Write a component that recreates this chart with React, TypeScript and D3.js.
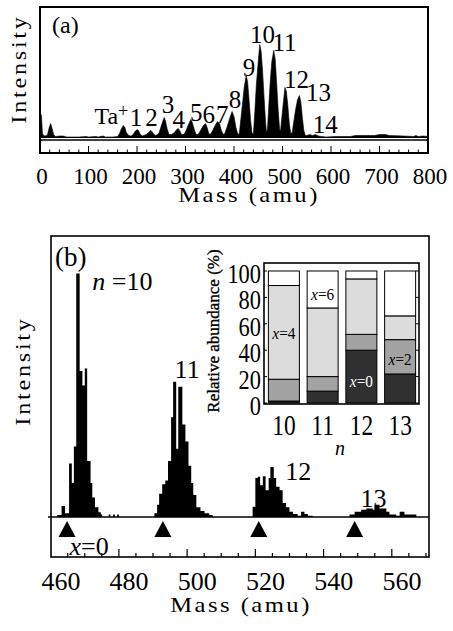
import React from "react";
import * as d3 from "d3";

const FONT = "'Liberation Serif', 'Times New Roman', serif";

// ---------------- Panel (a): overview spectrum ----------------
const aXTicks = [0, 100, 200, 300, 400, 500, 600, 700, 800];
const aMinorTicks = d3.range(0, 801, 20);
const aSpectrum: [number, number][] = [
  [0, 0], [1, 24], [3, 22], [5, 4], [8, 1.5], [15, 2], [19, 10], [22, 14], [25, 9], [28, 3], [32, 1],
  [40, 1.5], [48, 1.5], [55, 0.5], [80, 0.5], [95, 1], [100, 0.5], [115, 1], [120, 0.5], [130, 1.5],
  [135, 0.5], [150, 0.5],
  [160, 1], [164, 4], [168, 9], [172, 12], [175, 10], [178, 5], [183, 2], [188, 1.5],
  [192, 3], [196, 6], [200, 8], [203, 7], [207, 3], [211, 1.5],
  [219, 3], [224, 5], [228, 7], [231, 6], [235, 3], [239, 2],
  [245, 4], [249, 10], [253, 16], [256, 20], [259, 16], [262, 9], [266, 3],
  [271, 3], [277, 5], [282, 8], [285, 9], [288, 7], [292, 3],
  [297, 3], [302, 8], [307, 14], [311, 18], [314, 15], [318, 8], [322, 3],
  [326, 3], [331, 7], [337, 12], [341, 14], [344, 11], [348, 4],
  [351, 3], [356, 7], [361, 12], [366, 16], [370, 14], [374, 7], [378, 3],
  [381, 4], [386, 11], [391, 19], [396, 26], [400, 21], [404, 10], [408, 3],
  [411, 4], [414, 18], [418, 36], [421, 50], [425, 62], [428, 56], [431, 38], [434, 18], [437, 5],
  [440, 3], [443, 26], [446, 52], [450, 76], [453, 93], [456, 86], [459, 66], [462, 40], [465, 16], [467, 5],
  [469, 8], [472, 34], [475, 58], [478, 76], [482, 87], [485, 78], [488, 54], [491, 28], [494, 8],
  [496, 7], [499, 22], [502, 36], [505, 50], [508, 46], [511, 32], [514, 14], [517, 4],
  [520, 5], [523, 15], [527, 28], [531, 38], [535, 42], [538, 35], [541, 20], [544, 7], [547, 2],
  [550, 2], [556, 3], [562, 2], [568, 3], [574, 1.5], [580, 1],
  [590, 0.5], [610, 1], [640, 1], [650, 2], [670, 2], [690, 2], [700, 3], [712, 3], [720, 2],
  [750, 1.5], [770, 1], [775, 2], [780, 1], [790, 1.5], [800, 1],
];
const aLabelText = ["1", "2", "3", "4", "5", "6", "7", "8", "9", "10", "11", "12", "13", "14"];
const aLabelMass = [198, 230, 264, 286, 322, 348, 376, 402, 431, 459, 504, 529, 574, 588];
const aLabelLevel = [12, 12, 25, 10, 17, 15, 15, 30, 62, 95, 87, 50, 37, 5];
const aTaMass = 147;
const aTaLevel = 14;

// ---------------- Panel (b): zoomed spectrum ----------------
const bXTicks = [460, 480, 500, 520, 540, 560];
const bTickMarks = d3.range(462, 568, 5);
const bMajorMarks = [477, 497, 517, 537, 557];
const bSpectrum: [number, number][] = [
  [457, 0], [458.9, 0.8], [460.2, 4.5], [461.2, 1.5], [462.4, 22], [463.2, 14], [463.8, 29],
  [464.5, 100], [465.5, 60], [466.3, 54], [467.0, 61], [467.7, 23], [468.7, 14], [469.2, 8],
  [470.0, 4], [471.0, 2], [471.7, 1], [472.1, 0], [474, 1], [474.5, 0], [475.3, 1], [475.8, 0],
  [476.5, 1], [477, 0],
  [487.4, 1.5], [488.2, 5], [488.8, 9.5], [489.7, 13.5], [490.6, 15], [491.4, 23], [492.3, 41],
  [492.9, 55.5], [493.8, 28], [494.4, 53.5], [495.6, 38], [496.5, 31], [497.4, 21], [498.2, 14],
  [498.8, 9], [499.7, 4], [500.9, 2.5], [502.1, 1.5], [503.5, 0.8], [504.5, 0],
  [516.2, 4.2], [517.0, 16], [517.7, 16.5], [518.4, 13], [519.2, 16.7], [520.0, 11], [520.9, 16],
  [521.4, 20.5], [522.4, 16], [523.1, 12.4], [524.1, 11], [525.0, 5.8], [526.0, 4], [527.0, 2.2],
  [528.0, 1.2], [529.4, 0.5], [530.4, 2.2], [531.4, 1.2], [532.4, 0.5], [533.8, 0],
  [544.6, 1], [546.1, 2.2], [548.0, 3], [549.5, 3.5], [551.4, 3], [551.9, 5], [553.4, 3.5],
  [555.4, 2.2], [556.3, 1], [558.3, 0.5], [559.3, 2.2], [560.7, 1], [562.2, 1], [564.2, 0], [568, 0],
];
const bX0Masses = [461.8, 489.9, 518.0, 546.1];
const bClusterText = ["11", "12", "13"];
const bClusterMass = [497, 529.6, 551.6];
const bClusterLevel = [57, 15.2, 4.1];

// ---------------- Inset: relative abundance ----------------
const insetN = ["10", "11", "12", "13"];
const insetX0 = [1.5, 9, 40, 22];
const insetX2 = [16.5, 11, 12, 26];
const insetX4 = [71, 52, 42, 18];
const insetX6 = [11, 28, 6, 34];
const insetYTicks = [0, 20, 40, 60, 80, 100];
const insetKeys = ["x0", "x2", "x4", "x6"];
const insetColors = ["#303030", "#a3a3a3", "#dcdcdc", "#ffffff"];
const insetTagText = ["4", "6", "0", "2"];
const insetTagBar = ["10", "11", "12", "13"];
const insetTagLevel = [48.5, 78, 12, 29];
const insetTagColor = ["#000", "#000", "#fff", "#000"];

type TProps = {
  x: number; y: number; fs: number; sx?: number; rot?: number; ls?: number; sw?: number;
  anchor?: "start" | "middle" | "end"; fill?: string; children: React.ReactNode;
};
function T({ x, y, fs, sx = 1, rot = 0, ls = 0, sw = 0, anchor = "middle", fill = "#000", children }: TProps) {
  return (
    <text
      transform={`translate(${x},${y}) rotate(${rot}) scale(${sx},1)`}
      fontSize={fs}
      fontFamily={FONT}
      textAnchor={anchor}
      fill={fill}
      letterSpacing={ls}
      stroke={sw ? fill : "none"}
      strokeWidth={sw}
    >
      {children}
    </text>
  );
}

export default function App() {
  // Panel (a)
  const ax = d3.scaleLinear().domain([0, 800]).range([40, 428]);
  const ay = d3.scaleLinear().domain([0, 100]).range([137.5, 37.5]);
  const aArea = d3
    .area<[number, number]>()
    .x((d) => ax(d[0]))
    .y0(ay(0))
    .y1((d) => ay(d[1]))
    .curve(d3.curveLinear);

  // Panel (b)
  const bx = d3.scaleLinear().domain([457.1, 567.9]).range([51, 429]);
  const by = d3.scaleLinear().domain([0, 100]).range([517, 273.5]);
  const bArea = d3
    .area<[number, number]>()
    .x((d) => bx(d[0]))
    .y0(by(0))
    .y1((d) => by(d[1]))
    .curve(d3.curveStepAfter);

  // Inset
  const ix = d3.scaleBand<string>().domain(insetN).range([264.5, 419.5]).paddingInner(0.2).paddingOuter(0.1);
  const iy = d3.scaleLinear().domain([0, 100]).range([403, 271]);
  const rows = insetN.map((n, i) => ({ n, x0: insetX0[i], x2: insetX2[i], x4: insetX4[i], x6: insetX6[i] }));
  const stacked = d3.stack<any>().keys(insetKeys)(rows);

  const tri = (m: number) => {
    const p = d3.path();
    const cx = bx(m);
    p.moveTo(cx, 521);
    p.lineTo(cx + 8.5, 537);
    p.lineTo(cx - 8.5, 537);
    p.closePath();
    return p.toString();
  };

  return (
    <svg
      width={453}
      height={631}
      viewBox="0 0 453 631"
      style={{ position: "absolute", left: 0, top: 0, background: "#fff" }}
    >
      <rect x={0} y={0} width={453} height={631} fill="#fff" />

      {/* ---------- Panel (a) ---------- */}
      <path d={aArea(aSpectrum) || ""} fill="#000" stroke="#000" strokeWidth={0.6} />
      <line x1={40} x2={428} y1={ay(0)} y2={ay(0)} stroke="#000" strokeWidth={1} />
      <line x1={40} x2={428} y1={140} y2={140} stroke="#000" strokeWidth={1.6} />
      {aMinorTicks.map((v) => (
        <line key={v} x1={ax(v)} x2={ax(v)} y1={153} y2={v % 100 === 0 ? 146 : 149.5} stroke="#000" strokeWidth={1} />
      ))}
      <rect x={40} y={7} width={388} height={146} fill="none" stroke="#000" strokeWidth={2} />
      {aXTicks.map((v) => (
        <T key={v} x={ax(v) + 2} y={184} fs={23}>{v}</T>
      ))}
      <T x={249} y={202} fs={22} sx={1.12} ls={2.2}>Mass (amu)</T>
      <T x={26} y={69} fs={21} sx={1.15} ls={2.4} rot={-90}>Intensity</T>
      <T x={52} y={33} fs={24} anchor="start">(a)</T>
      {aLabelText.map((t, i) => (
        <T key={t} x={ax(aLabelMass[i])} y={ay(aLabelLevel[i])} fs={25}>{t}</T>
      ))}
      <T x={ax(aTaMass)} y={ay(aTaLevel)} fs={24}>
        Ta<tspan dy={-7} fontSize={18}>+</tspan>
      </T>

      {/* ---------- Panel (b) ---------- */}
      <path d={bArea(bSpectrum) || ""} fill="#000" />
      <line x1={48} x2={429} y1={by(0)} y2={by(0)} stroke="#000" strokeWidth={1.5} />
      {bX0Masses.map((m) => (
        <path key={m} d={tri(m)} fill="#000" />
      ))}
      {bTickMarks.map((m) => (
        <line key={m} x1={bx(m)} x2={bx(m)} y1={557} y2={bMajorMarks.includes(m) ? 549 : 553} stroke="#000" strokeWidth={1.2} />
      ))}
      <rect x={51} y={236} width={378} height={321} fill="none" stroke="#000" strokeWidth={1.6} />
      {bXTicks.map((v) => (
        <T key={v} x={bx(v)} y={590} fs={26}>{v}</T>
      ))}
      <T x={241} y={612} fs={22} sx={1.12} ls={2.2}>Mass (amu)</T>
      <T x={30} y={371} fs={21} sx={1.15} ls={2.4} rot={-90}>Intensity</T>
      <T x={55} y={266} fs={27} anchor="start">(b)</T>
      <T x={bx(469.2)} y={by(93.2)} fs={26} anchor="start">
        <tspan fontStyle="italic">n</tspan> =10
      </T>
      {bClusterText.map((t, i) => (
        <T key={t} x={bx(bClusterMass[i])} y={by(bClusterLevel[i])} fs={26}>{t}</T>
      ))}
      <T x={bx(462.5)} y={555} fs={26} anchor="start">
        <tspan fontStyle="italic">x</tspan>=0
      </T>

      {/* ---------- Inset ---------- */}
      <rect x={264} y={263} width={155} height={141} fill="#fff" stroke="#000" strokeWidth={1.6} />
      {stacked.map((layer, li) =>
        layer.map((seg: any, j: number) => (
          <rect
            key={`${li}-${j}`}
            x={ix(insetN[j])!}
            y={iy(seg[1])}
            width={ix.bandwidth()}
            height={iy(seg[0]) - iy(seg[1])}
            fill={insetColors[li]}
            stroke="#000"
            strokeWidth={1}
          />
        ))
      )}
      {insetYTicks.map((v) => (
        <g key={v}>
          <line x1={264} x2={267} y1={iy(v)} y2={iy(v)} stroke="#000" strokeWidth={1} />
          <line x1={416} x2={419} y1={iy(v)} y2={iy(v)} stroke="#000" strokeWidth={1} />
          <T x={261} y={iy(v) + 12} fs={28} sx={0.8} anchor="end">{v}</T>
        </g>
      ))}
      {insetN.map((n) => (
        <T key={n} x={ix(n)! + ix.bandwidth() / 2} y={435} fs={30} sx={0.78}>{n}</T>
      ))}
      <T x={340} y={455} fs={20}>
        <tspan fontStyle="italic">n</tspan>
      </T>
      {insetTagText.map((t, i) => (
        <T key={i} x={ix(insetTagBar[i])! + ix.bandwidth() / 2} y={iy(insetTagLevel[i])} fs={17} sx={0.9} fill={insetTagColor[i]}>
          <tspan fontStyle="italic">x</tspan>={t}
        </T>
      ))}
      <T x={219} y={331} fs={17} sw={0.35} rot={-90}>Relative abundance (%)</T>
    </svg>
  );
}
